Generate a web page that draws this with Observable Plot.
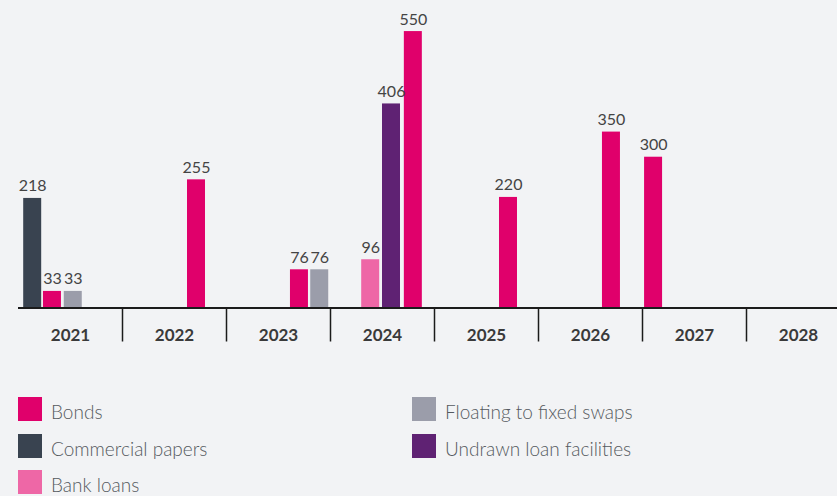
<!DOCTYPE html>
<html>
<head>
<meta charset="utf-8">
<script src="https://cdn.jsdelivr.net/npm/d3@7"></script>
<script src="https://cdn.jsdelivr.net/npm/@observablehq/plot@0.6"></script>
<style>
  html, body { margin: 0; padding: 0; background: #f2f3f5; }
  body { width: 837px; height: 496px; overflow: hidden; font-family: Lato, "Open Sans", sans-serif; }
  #chart svg { display: block; background: transparent; }
  #legend {
    margin-top: 37px;
    padding-left: 18px;
    display: grid;
    grid-template-columns: 394px auto;
    grid-auto-flow: column;
    grid-template-rows: repeat(3, 24px);
    row-gap: 12.5px;
  }
  .item { display: flex; align-items: flex-start; height: 24px; }
  .sw { width: 24px; height: 24px; flex: none; }
  .lab { margin-left: 9px; font-size: 19px; font-weight: 300; color: #555a60; line-height: 24px; position: relative; top: 3px; white-space: nowrap; }
</style>
</head>
<body>
<div id="chart"></div>
<div id="legend"></div>
<script>
// Categories and colours
const categories = ["Bonds", "Commercial papers", "Bank loans", "Floating to fixed swaps", "Undrawn loan facilities"];
const categoryColors = ["#e0006b", "#394350", "#ee67a6", "#9b9daa", "#5f2273"];

// Years on the axis
const years = [2021, 2022, 2023, 2024, 2025, 2026, 2027, 2028];

// Bars: series, maturity (decimal year), value
const barSeries = ["Commercial papers", "Bonds", "Floating to fixed swaps", "Bonds", "Bonds", "Floating to fixed swaps", "Bank loans", "Undrawn loan facilities", "Bonds", "Bonds", "Bonds", "Bonds"];
const barMaturity = [2021.05, 2021.24, 2021.44, 2022.625, 2023.615, 2023.81, 2024.30, 2024.50, 2024.71, 2025.625, 2026.615, 2027.02];
const barValues = [218, 33, 33, 255, 76, 76, 96, 406, 550, 220, 350, 300];

const bars = barSeries.map((s, i) => ({series: s, maturity: barMaturity[i], value: barValues[i]}));
const barW = 0.173; // bar width in years

const plot = Plot.plot({
  width: 837,
  height: 360,
  marginLeft: 18,
  marginRight: 0,
  marginTop: 18,
  marginBottom: 52.5,
  style: {background: "transparent", fontFamily: "Lato, 'Open Sans', sans-serif"},
  x: {domain: [2021, 2028.875], label: null},
  y: {domain: [0, 576], axis: null},
  color: {domain: categories, range: categoryColors},
  marks: [
    Plot.rectY(bars, {x1: "maturity", x2: d => d.maturity + barW, y1: 0, y2: "value", fill: "series"}),
    Plot.text(bars, {x: d => d.maturity + barW / 2, y: "value", text: d => String(d.value), lineAnchor: "bottom", dy: -7, fontSize: 16, fill: "#444"}),
    Plot.ruleY([0], {stroke: "#1b1b1b", strokeWidth: 2}),
    Plot.axisX(years.slice(1), {anchor: "bottom", label: null, tickSize: 34, tickFormat: () => "", stroke: "#1b1b1b", strokeWidth: 1.5}),
    Plot.axisX(years.map(y => y + 0.5), {anchor: "bottom", label: null, tickSize: 0, tickPadding: 21, tickFormat: d => String(Math.floor(d)), fontSize: 17, fontWeight: "bold", fill: "#3a3a3a"})
  ]
});
document.getElementById("chart").appendChild(plot);

// Legend
const legend = document.getElementById("legend");
const legendOrder = ["Bonds", "Commercial papers", "Bank loans", "Floating to fixed swaps", "Undrawn loan facilities"];
legendOrder.forEach(name => {
  const item = document.createElement("div");
  item.className = "item";
  const sw = document.createElement("span");
  sw.className = "sw";
  sw.style.background = categoryColors[categories.indexOf(name)];
  const lab = document.createElement("span");
  lab.className = "lab";
  lab.textContent = name;
  item.appendChild(sw);
  item.appendChild(lab);
  legend.appendChild(item);
});
</script>
</body>
</html>
